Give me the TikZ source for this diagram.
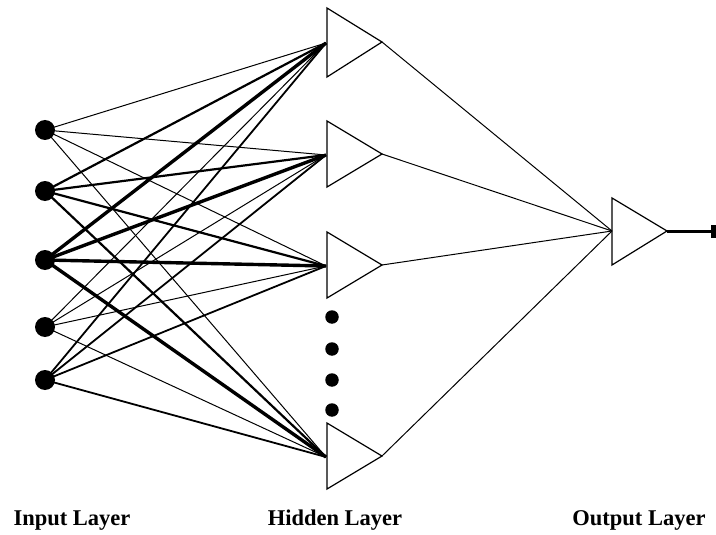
\documentclass[tikz,border=0pt]{standalone}
\usepackage{fontspec}
\setmainfont{Liberation Serif}
\begin{document}
\begin{tikzpicture}[x=1pt,y=-1pt,
  inp/.style={circle,fill=black,inner sep=0pt,minimum size=20pt},
  hdot/.style={circle,fill=black,inner sep=0pt,minimum size=13.5pt},
  tri/.style={draw=black,line width=1.2pt,line join=miter},
  wthin/.style={line width=1pt},
  wmed/.style={line width=2.2pt},
  wlow/.style={line width=1.8pt},
  wthick/.style={line width=3.4pt},
  lbl/.style={font=\bfseries\fontsize{22.5}{26}\selectfont,anchor=base}]
\useasboundingbox (0,0) rectangle (716,535);
% input nodes
\node[inp] (i1) at (45,130) {};
\node[inp] (i2) at (45,191) {};
\node[inp] (i3) at (45,260) {};
\node[inp] (i4) at (45,327) {};
\node[inp] (i5) at (45,380) {};
% hidden unit input points and apexes
\coordinate (h1) at (326,43);
\coordinate (h2) at (326,155);
\coordinate (h3) at (326,266);
\coordinate (h4) at (326,457);
\coordinate (a1) at (382,42);
\coordinate (a2) at (382,154);
\coordinate (a3) at (382,265);
\coordinate (a4) at (382,456);
\coordinate (o) at (612,231);
\coordinate (oa) at (667,231);
\coordinate (oend) at (713,231);
% input to hidden connections
\foreach \h in {h1,h2,h3,h4} {
  \draw[wthin] (i1.center) -- (\h);
  \draw[wmed] (i2.center) -- (\h);
  \draw[wthick] (i3.center) -- (\h);
  \draw[wthin] (i4.center) -- (\h);
  \draw[wlow] (i5.center) -- (\h);
}
% hidden triangles
\draw[tri] (327,8) -- (a1) -- (327,77) -- cycle;
\draw[tri] (327,121) -- (a2) -- (327,187) -- cycle;
\draw[tri] (327,232) -- (a3) -- (327,298) -- cycle;
\draw[tri] (327,423) -- (a4) -- (327,489) -- cycle;
% dots
\node[hdot] (d1) at (332,317) {};
\node[hdot] (d2) at (332,349) {};
\node[hdot] (d3) at (332,380) {};
\node[hdot] (d4) at (332,410) {};
% hidden to output
\foreach \a in {a1,a2,a3,a4} \draw[wthin] (\a) -- (o);
% output triangle
\draw[tri] (612,198) -- (oa) -- (612,265) -- cycle;
\draw[line width=3pt] (oa) -- (oend);
\fill (711,224.5) rectangle (716,237.5);
% labels
\node[lbl] (l1) at (72,525) {Input Layer};
\node[lbl] (l2) at (335,525) {Hidden Layer};
\node[lbl] (l3) at (639,525) {Output Layer};
\end{tikzpicture}
\end{document}
